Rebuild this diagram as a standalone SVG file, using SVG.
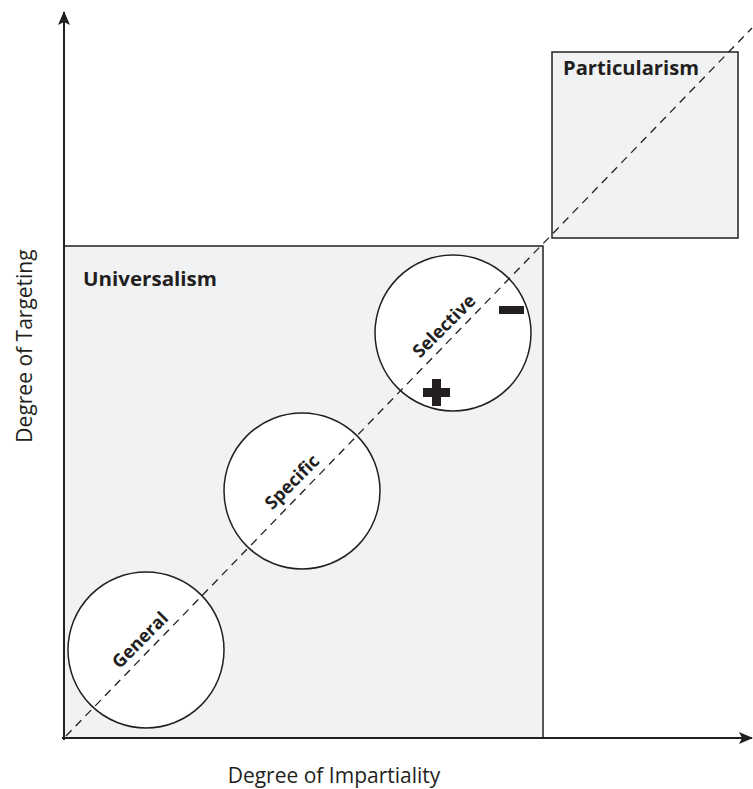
<svg xmlns="http://www.w3.org/2000/svg" width="753" height="789" viewBox="0 0 753 789">
<defs>
<style>
.box{fill:#f1f2f4;stroke:#231f20;stroke-width:1.5}
.circ{fill:#fff;stroke:#231f20;stroke-width:1.5}
.axis{stroke:#231f20;stroke-width:2;fill:none}
.diag{stroke:#231f20;stroke-width:1.3;stroke-dasharray:8,6;fill:none}
.lbl{font-family:"Open Sans","Liberation Sans",sans-serif;font-weight:bold;fill:#231f20}
.ax{font-family:"Open Sans","Liberation Sans",sans-serif;fill:#231f20;font-size:21px}
.circtxt{font-family:"Open Sans","Liberation Sans",sans-serif;font-weight:bold;fill:#231f20;font-size:18px}
</style>
<marker id="arr" markerWidth="14" markerHeight="12" refX="13" refY="6" orient="auto" markerUnits="userSpaceOnUse">
<path d="M0,0 L14,6 L0,12 L3,6 Z" fill="#231f20"/>
</marker>
</defs>
<g id="universalism">
<rect class="box" x="64" y="246" width="479" height="492"/>
<text class="lbl" x="83" y="286" font-size="20" textLength="134" lengthAdjust="spacingAndGlyphs">Universalism</text>
</g>
<g id="particularism">
<rect class="box" x="552" y="52" width="186" height="186"/>
<text class="lbl" x="563" y="75" font-size="20" textLength="136" lengthAdjust="spacingAndGlyphs">Particularism</text>
</g>
<g id="general">
<circle class="circ" cx="146" cy="650" r="78"/>
<text class="circtxt" transform="translate(141,641) rotate(-45)" text-anchor="middle" dominant-baseline="middle">General</text>
</g>
<g id="specific">
<circle class="circ" cx="302" cy="491" r="78"/>
<text class="circtxt" transform="translate(293,483) rotate(-45)" text-anchor="middle" dominant-baseline="middle">Specific</text>
</g>
<g id="selective">
<circle class="circ" cx="453" cy="333" r="78"/>
<text class="circtxt" transform="translate(445,327) rotate(-45)" text-anchor="middle" dominant-baseline="middle">Selective</text>
<rect x="499" y="306" width="25" height="8" fill="#231f20"/>
<path d="M432,379 h9 v9 h9 v9 h-9 v9 h-9 v-9 h-9 v-9 h9 Z" fill="#231f20"/>
</g>
<g id="connectors">
<line class="diag" x1="66" y1="736" x2="752" y2="28"/>
<line class="axis" x1="64" y1="740" x2="64" y2="12" marker-end="url(#arr)"/>
<line class="axis" x1="62" y1="738" x2="752" y2="738" marker-end="url(#arr)"/>
</g>
<text class="ax" x="334" y="783" text-anchor="middle">Degree of Impartiality</text>
<text class="ax" transform="translate(32,346) rotate(-90)" text-anchor="middle">Degree of Targeting</text>
</svg>
